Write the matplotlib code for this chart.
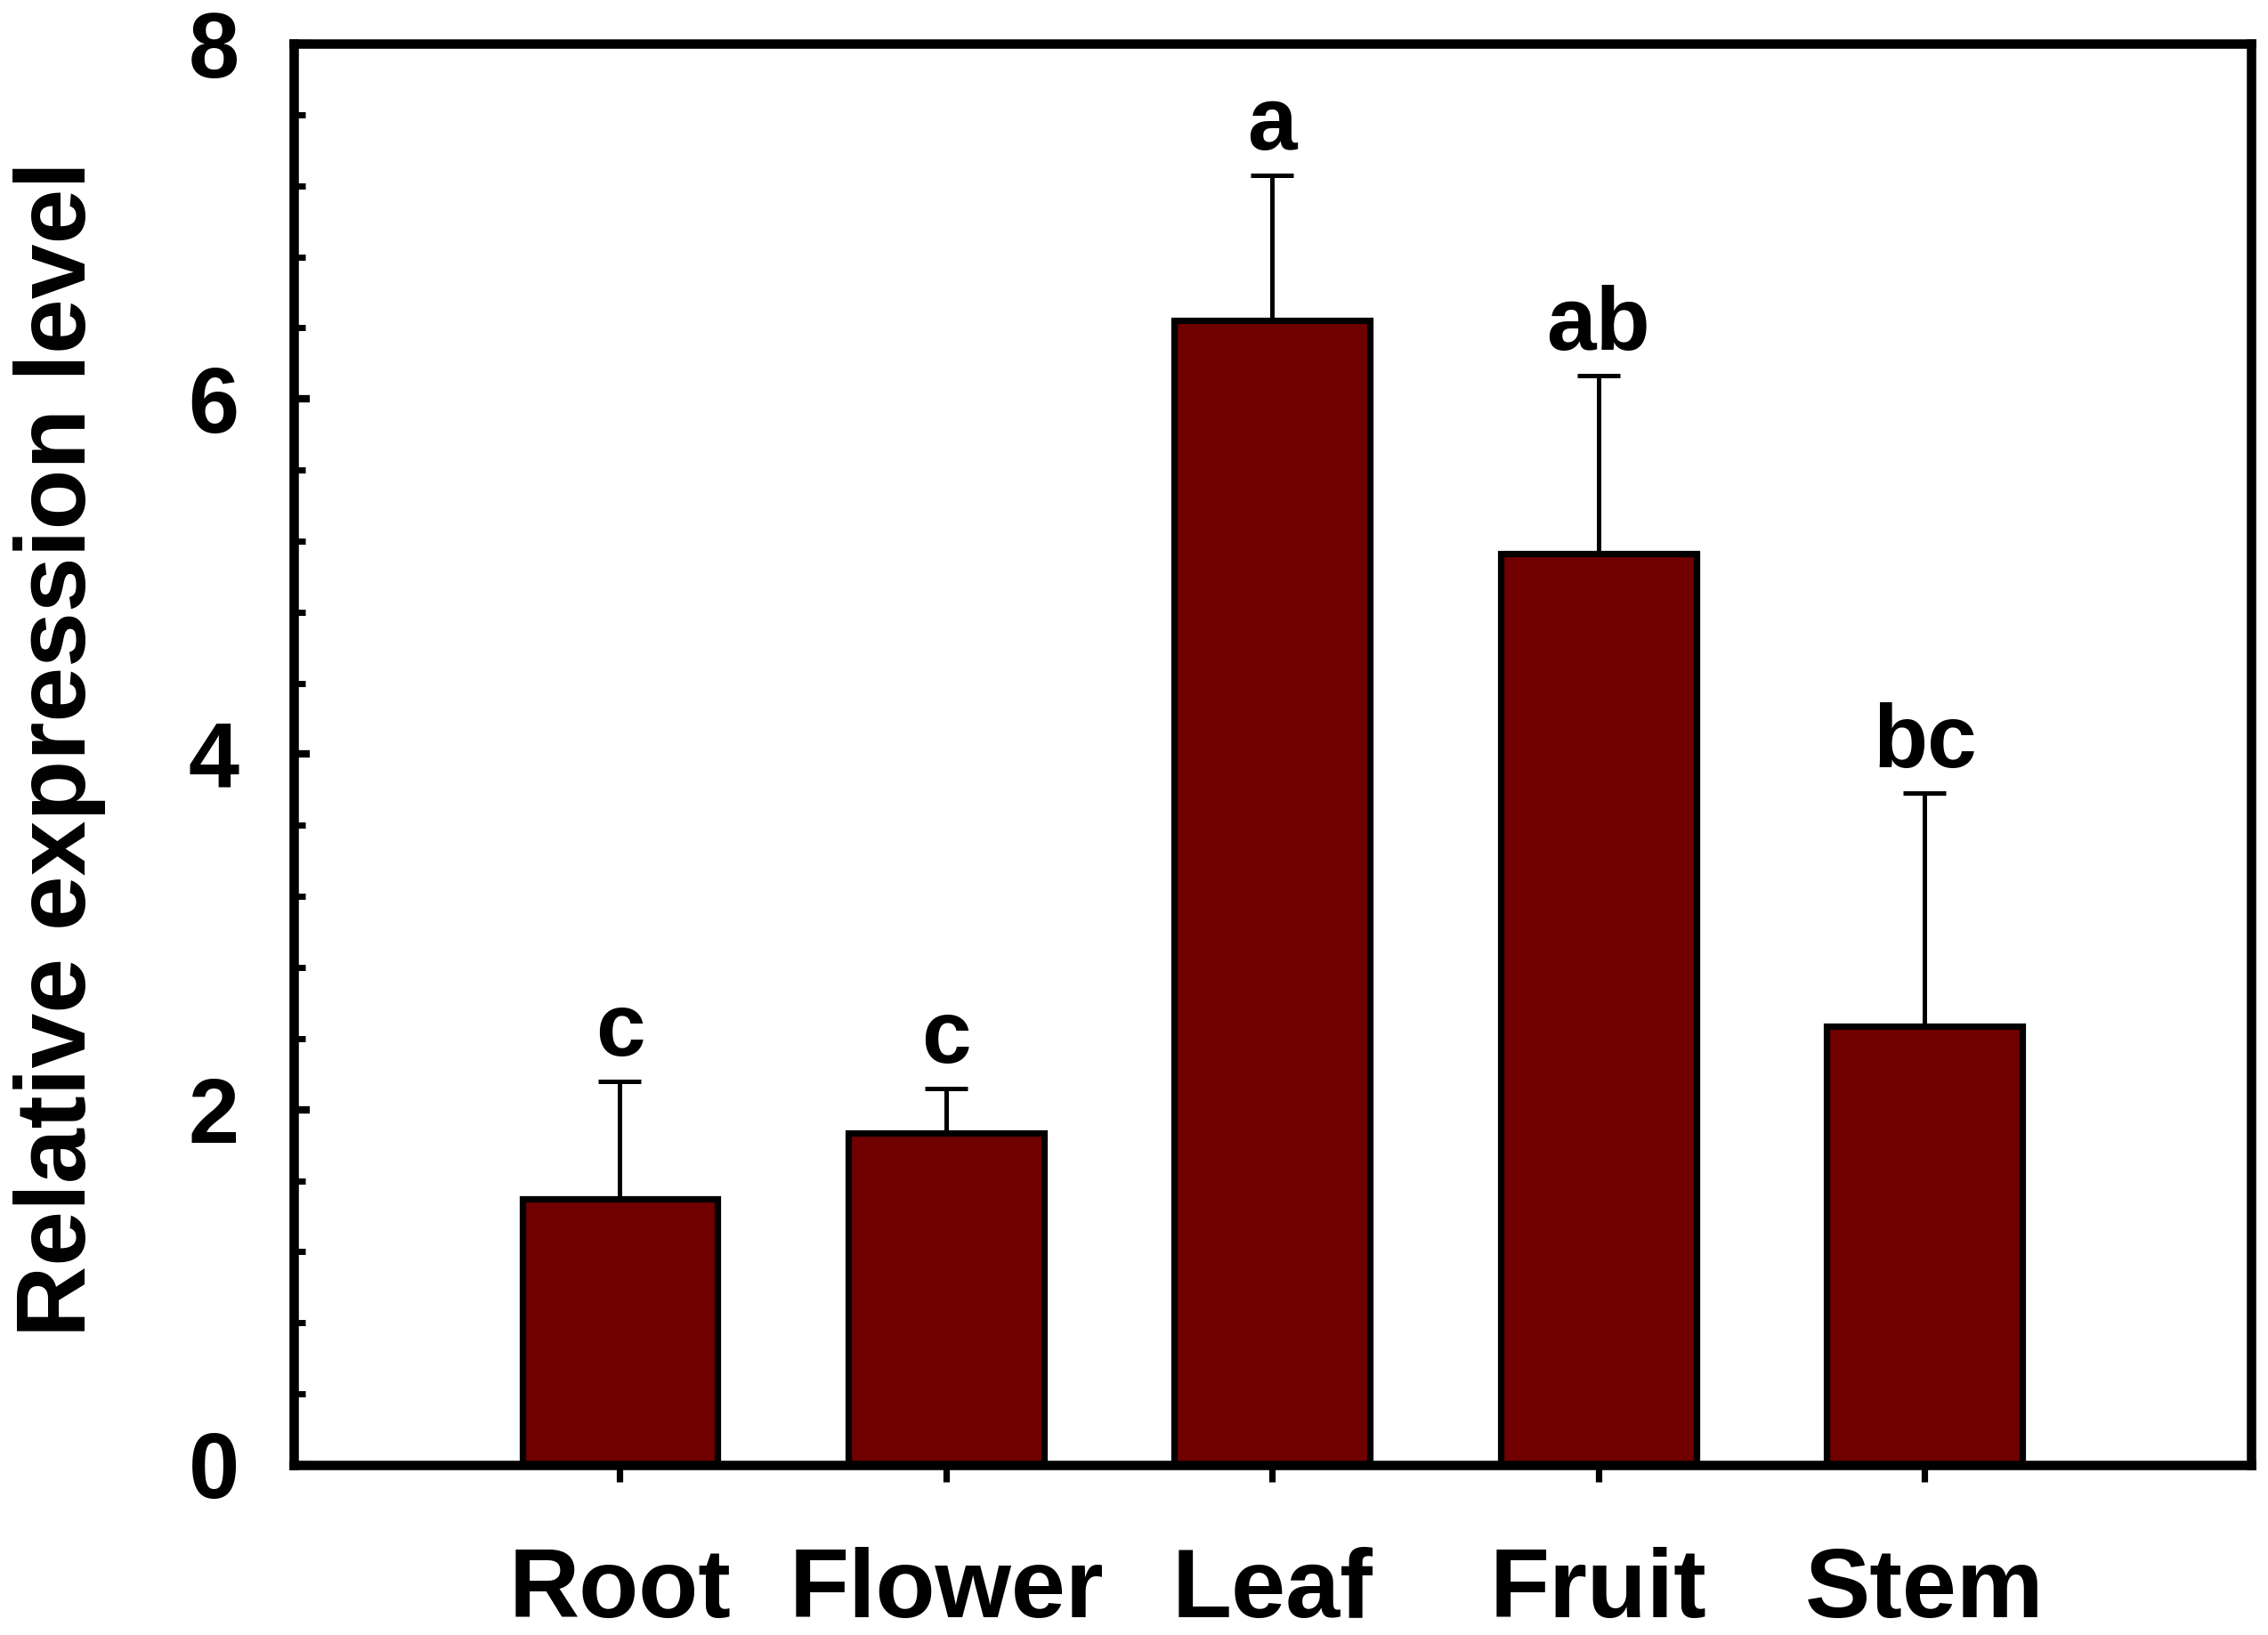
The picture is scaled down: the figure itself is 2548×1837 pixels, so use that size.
import matplotlib
matplotlib.use("Agg")
import matplotlib.pyplot as plt
from matplotlib.ticker import MultipleLocator

tissues = ["Root", "Flower", "Leaf", "Fruit", "Stem"]
expression = [1.50, 1.87, 6.44, 5.13, 2.47]
error = [0.66, 0.25, 0.82, 1.00, 1.31]
letters = ["c", "c", "a", "ab", "bc"]

plt.rcParams['font.family'] = ['Liberation Sans', 'DejaVu Sans']
plt.rcParams['font.weight'] = 'bold'

fig = plt.figure(figsize=(12.74, 9.185), dpi=200)
ax = fig.add_axes([0.1295, 0.104, 0.863, 0.8693])

x = list(range(len(tissues)))
ax.bar(x, expression, width=0.6, color="#700000", edgecolor="black",
       linewidth=2.6, zorder=2)
ax.errorbar(x, expression, yerr=[[0] * len(error), error], fmt="none",
            ecolor="black", elinewidth=1.8, capsize=8.8, capthick=1.8, zorder=3)

for xi, v, e, t in zip(x, expression, error, letters):
    ax.text(xi, v + e + 0.04, t, ha="center", va="bottom",
            fontsize=36, fontweight="bold")

ax.set_xlim(-1, 5)
ax.set_ylim(0, 8)
ax.set_xticks(x)
ax.set_xticklabels(tissues, fontsize=39.5, fontweight="bold")
ax.set_yticks([0, 2, 4, 6, 8])
ax.set_yticklabels(["0", "2", "4", "6", "8"], fontsize=37, fontweight="bold")
ax.yaxis.set_minor_locator(MultipleLocator(0.4))

ax.tick_params(axis="y", which="major", direction="in", length=6.5, width=3,
               pad=22, right=False)
ax.tick_params(axis="y", which="minor", direction="in", length=4.5, width=2.5,
               right=False)
ax.tick_params(axis="x", which="major", direction="out", length=7, width=2.6,
               pad=26, top=False)
ax.tick_params(axis="x", which="minor", bottom=False, top=False)

for s in ax.spines.values():
    s.set_linewidth(3.8)

fig.text(0.006, 0.542, "Relative expression level", rotation=90,
         ha="left", va="center", fontsize=40, fontweight="bold")

fig.savefig("out.png", dpi=200)
